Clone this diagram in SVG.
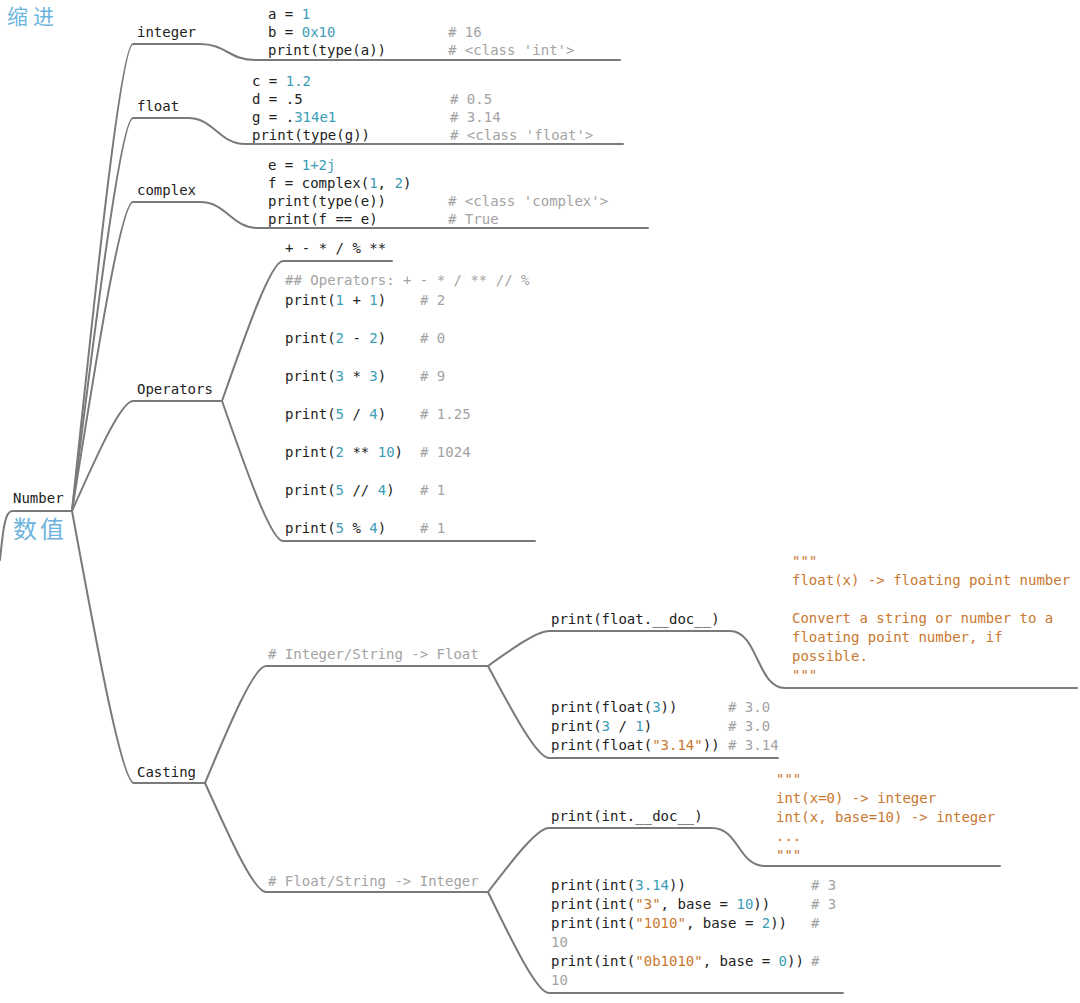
<svg xmlns="http://www.w3.org/2000/svg" width="1080" height="1003" viewBox="0 0 1080 1003" xml:space="preserve">
<style>
.ln{fill:none;stroke:#7a7a7a;stroke-width:2;stroke-linecap:round;stroke-linejoin:round}
.t{font-family:"DejaVu Sans Mono","Liberation Mono",monospace;font-size:14px;fill:#222}
.n{fill:#3b9db6}
.c{fill:#a3a3a3}
.s{fill:#c9782f}
.cjk{font-family:"Noto Sans CJK SC","Noto Sans CJK JP",sans-serif;fill:#6cb4de}
</style>
<rect width="1080" height="1003" fill="#ffffff"/>
<g id="connectors">
<path class="ln" d="M0,560 C3,530 5,511 12,511 L72,511"/>
<path class="ln" d="M72,511 C96.5,277.5 121,44 133,44 L200,44 C226,44 229,60 255,60 L620,60"/>
<path class="ln" d="M72,511 C96.5,314.5 121,118 133,118 L188,118 C214,118 219,144 245,144 L623,144"/>
<path class="ln" d="M72,511 C96.5,356.5 121,202 133,202 L200,202 C227,202 231,228 258,228 L648,228"/>
<path class="ln" d="M72,511 C96.5,456 121,401 133,401 L222,401"/>
<path class="ln" d="M222,401 C246.5,331 271,261 283,261 L392,261"/>
<path class="ln" d="M222,401 C246.5,471 271,541 283,541 L535,541"/>
<path class="ln" d="M72,511 C97,647 122,783 134,783 L205,783"/>
<path class="ln" d="M205,783 C229.5,724.5 254,666 266,666 L488,666"/>
<path class="ln" d="M205,783 C229.5,837.5 254,892 266,892 L488,892"/>
<path class="ln" d="M488,666 C512.5,648.5 537,631 549,631 L730,631 C758,631 757,688 785,688 L1077,688"/>
<path class="ln" d="M488,666 C512.5,712 537,758 549,758 L778,758"/>
<path class="ln" d="M488,892 C512.5,860 537,828 549,828 L712,828 C739,828 738,866 765,866 L1000,866"/>
<path class="ln" d="M488,892 C512.5,942.5 537,993 549,993 L843,993"/>
</g>
<g id="title">
<text class="cjk" x="7" y="24" font-size="21" letter-spacing="5">缩进</text>
</g>
<g id="root">
<text class="t" x="13" y="503">Number</text>
<text class="cjk" x="13" y="538" font-size="24" letter-spacing="3">数值</text>
</g>
<g id="integer">
<text class="t" x="137" y="37">integer</text>
</g>
<g id="integer-code">
<text class="t" x="268" y="19">a = <tspan class="n">1</tspan></text>
<text class="t" x="268" y="37">b = <tspan class="n">0x10</tspan></text>
<text class="t" x="268" y="55">print(type(a))</text>
<text class="t c" x="448" y="37"># 16</text>
<text class="t c" x="448" y="55"># &lt;class 'int'&gt;</text>
</g>
<g id="float">
<text class="t" x="137" y="111">float</text>
</g>
<g id="float-code">
<text class="t" x="252" y="86">c = <tspan class="n">1.2</tspan></text>
<text class="t" x="252" y="104">d = .5</text>
<text class="t" x="252" y="122">g = .<tspan class="n">314e1</tspan></text>
<text class="t" x="252" y="140">print(type(g))</text>
<text class="t c" x="450" y="104"># 0.5</text>
<text class="t c" x="450" y="122"># 3.14</text>
<text class="t c" x="450" y="140"># &lt;class 'float'&gt;</text>
</g>
<g id="complex">
<text class="t" x="137" y="195">complex</text>
</g>
<g id="complex-code">
<text class="t" x="268" y="170">e = <tspan class="n">1+2j</tspan></text>
<text class="t" x="268" y="188">f = complex(<tspan class="n">1</tspan>, <tspan class="n">2</tspan>)</text>
<text class="t" x="268" y="206">print(type(e))</text>
<text class="t" x="268" y="224">print(f == e)</text>
<text class="t c" x="448" y="206"># &lt;class 'complex'&gt;</text>
<text class="t c" x="448" y="224"># True</text>
</g>
<g id="operators">
<text class="t" x="137" y="394">Operators</text>
</g>
<g id="operators-symbols">
<text class="t" x="285" y="253" fill="#111">+ - * / % **</text>
</g>
<g id="operators-code">
<text class="t c" x="285" y="285">## Operators: + - * / ** // %</text>
<text class="t" x="285" y="305">print(<tspan class="n">1</tspan> + <tspan class="n">1</tspan>)</text>
<text class="t" x="285" y="343">print(<tspan class="n">2</tspan> - <tspan class="n">2</tspan>)</text>
<text class="t" x="285" y="381">print(<tspan class="n">3</tspan> * <tspan class="n">3</tspan>)</text>
<text class="t" x="285" y="419">print(<tspan class="n">5</tspan> / <tspan class="n">4</tspan>)</text>
<text class="t" x="285" y="457">print(<tspan class="n">2</tspan> ** <tspan class="n">10</tspan>)</text>
<text class="t" x="285" y="495">print(<tspan class="n">5</tspan> // <tspan class="n">4</tspan>)</text>
<text class="t" x="285" y="533">print(<tspan class="n">5</tspan> % <tspan class="n">4</tspan>)</text>
<text class="t c" x="420" y="305"># 2</text>
<text class="t c" x="420" y="343"># 0</text>
<text class="t c" x="420" y="381"># 9</text>
<text class="t c" x="420" y="419"># 1.25</text>
<text class="t c" x="420" y="457"># 1024</text>
<text class="t c" x="420" y="495"># 1</text>
<text class="t c" x="420" y="533"># 1</text>
</g>
<g id="casting">
<text class="t" x="137" y="777">Casting</text>
</g>
<g id="to-float">
<text class="t c" x="268" y="659"># Integer/String -&gt; Float</text>
</g>
<g id="float-doc">
<text class="t" x="551" y="624">print(float.__doc__)</text>
</g>
<g id="float-doc-text">
<text class="t s" x="792" y="566">"""</text>
<text class="t s" x="792" y="585">float(x) -&gt; floating point number</text>
<text class="t s" x="792" y="623">Convert a string or number to a</text>
<text class="t s" x="792" y="642">floating point number, if</text>
<text class="t s" x="792" y="661">possible.</text>
<text class="t s" x="792" y="680">"""</text>
</g>
<g id="float-examples">
<text class="t" x="551" y="712">print(float(<tspan class="n">3</tspan>))</text>
<text class="t" x="551" y="731">print(<tspan class="n">3</tspan> / <tspan class="n">1</tspan>)</text>
<text class="t" x="551" y="750">print(float(<tspan class="s">"3.14"</tspan>))</text>
<text class="t c" x="728" y="712"># 3.0</text>
<text class="t c" x="728" y="731"># 3.0</text>
<text class="t c" x="728" y="750"># 3.14</text>
</g>
<g id="to-int">
<text class="t c" x="268" y="886"># Float/String -&gt; Integer</text>
</g>
<g id="int-doc">
<text class="t" x="551" y="821">print(int.__doc__)</text>
</g>
<g id="int-doc-text">
<text class="t s" x="776" y="784">"""</text>
<text class="t s" x="776" y="803">int(x=0) -&gt; integer</text>
<text class="t s" x="776" y="822">int(x, base=10) -&gt; integer</text>
<text class="t s" x="776" y="841">...</text>
<text class="t s" x="776" y="860">"""</text>
</g>
<g id="int-examples">
<text class="t" x="551" y="890">print(int(<tspan class="n">3.14</tspan>))</text>
<text class="t" x="551" y="909">print(int(<tspan class="s">"3"</tspan>, base = <tspan class="n">10</tspan>))</text>
<text class="t" x="551" y="928">print(int(<tspan class="s">"1010"</tspan>, base = <tspan class="n">2</tspan>))</text>
<text class="t c" x="551" y="947">10</text>
<text class="t" x="551" y="966">print(int(<tspan class="s">"0b1010"</tspan>, base = <tspan class="n">0</tspan>))</text>
<text class="t c" x="551" y="985">10</text>
<text class="t c" x="811" y="890"># 3</text>
<text class="t c" x="811" y="909"># 3</text>
<text class="t c" x="811" y="928">#</text>
<text class="t c" x="811" y="966">#</text>
</g>
</svg>
